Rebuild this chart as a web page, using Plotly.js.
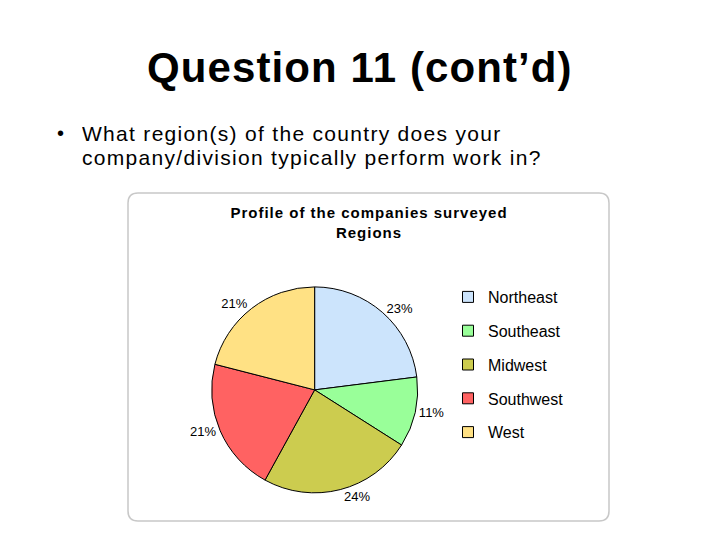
<!DOCTYPE html>
<html>
<head>
<meta charset="utf-8">
<script src="https://cdn.plot.ly/plotly-3.0.1.min.js"></script>
<style>
html,body{margin:0;padding:0;background:#fff;}
#chart{width:720px;height:540px;}
#chart .annotation-text{letter-spacing:1.3px;}
#chart .annotation[data-index="0"] .annotation-text{letter-spacing:1.1px;}
#chart .annotation[data-index="1"] .annotation-text{letter-spacing:0px;}
#chart .gtitle{letter-spacing:1px;}
</style>
</head>
<body>
<div id="chart"></div>
<script>
// Data
const regions = ["Northeast", "Southeast", "Midwest", "Southwest", "West"];
const shares = [23, 11, 24, 21, 21];
const sliceColors = ["#cce4fc", "#99ff99", "#cccc4f", "#ff6262", "#ffe184"];
const slideTitle = "Question 11 (cont\u2019d)";
const bulletLines = ["What region(s) of the country does your", "company/division typically perform work in?"];
const chartTitle = "Profile of the companies surveyed<br>Regions";

const FONT = "Arial, 'Liberation Sans', sans-serif";

const traces = [{
  type: "pie",
  labels: regions,
  values: shares,
  sort: false,
  direction: "clockwise",
  rotation: 0,
  marker: {colors: sliceColors, line: {color: "#000", width: 1}},
  textinfo: "percent",
  textposition: "outside",
  outsidetextfont: {family: FONT, size: 13, color: "#000"},
  showlegend: false,
  hoverinfo: "label+percent",
  domain: {x: [0.294, 0.58], y: [0.087, 0.469]}
}];

// legend entries (one per region, so spacing can be set)
regions.forEach((r, i) => {
  traces.push({
    type: "scatter", mode: "markers", x: [null], y: [null],
    name: r, legendgroup: r,
    marker: {symbol: "square", size: 11, color: sliceColors[i], line: {color: "#000", width: 1}},
    hoverinfo: "skip"
  });
});

const layout = {
  width: 720, height: 540,
  margin: {l: 0, r: 0, t: 0, b: 0},
  paper_bgcolor: "#fff", plot_bgcolor: "rgba(0,0,0,0)",
  font: {family: FONT, color: "#000"},
  title: {
    text: "<b>" + chartTitle + "</b>",
    font: {family: FONT, size: 15, color: "#000"},
    x: 369 / 720, xanchor: "center",
    y: 1 - 218 / 540, yanchor: "top"
  },
  xaxis: {visible: false, domain: [0.9, 0.95]},
  yaxis: {visible: false, domain: [0.9, 0.95]},
  showlegend: true,
  legend: {
    x: 448 / 720, xanchor: "left",
    y: 1 - 280 / 540, yanchor: "top",
    font: {family: FONT, size: 16, color: "#000"},
    tracegroupgap: 10,
    bgcolor: "rgba(0,0,0,0)"
  },
  shapes: [{
    type: "path", xref: "paper", yref: "paper",
    path: (function () {
      const W = 720, H = 540;
      const x0 = 128 / W, x1 = 609 / W, y0 = 1 - 521 / H, y1 = 1 - 193 / H;
      const rx = 10 / W, ry = 10 / H;
      return `M ${x0 + rx},${y1} L ${x1 - rx},${y1} Q ${x1},${y1} ${x1},${y1 - ry} L ${x1},${y0 + ry} Q ${x1},${y0} ${x1 - rx},${y0} L ${x0 + rx},${y0} Q ${x0},${y0} ${x0},${y0 + ry} L ${x0},${y1 - ry} Q ${x0},${y1} ${x0 + rx},${y1} Z`;
    })(),
    line: {color: "#c8c8c8", width: 1.5},
    fillcolor: "rgba(0,0,0,0)",
    layer: "below"
  }],
  annotations: [
    {text: "<b>" + slideTitle + "</b>", xref: "paper", yref: "paper",
     x: 360 / 720, y: 1 - 68 / 540, xanchor: "center", yanchor: "middle",
     showarrow: false, font: {family: FONT, size: 42, color: "#000"}},
    {text: "\u2022", xref: "paper", yref: "paper",
     x: 55 / 720, y: 1 - 133 / 540, xanchor: "left", yanchor: "middle",
     showarrow: false, font: {family: FONT, size: 20, color: "#000"}},
    {text: bulletLines[0], xref: "paper", yref: "paper",
     x: 80 / 720, y: 1 - 134 / 540, xanchor: "left", yanchor: "middle",
     width: 480, align: "left",
     showarrow: false, font: {family: FONT, size: 21, color: "#000"}},
    {text: bulletLines[1], xref: "paper", yref: "paper",
     x: 80 / 720, y: 1 - 157 / 540, xanchor: "left", yanchor: "middle",
     width: 480, align: "left",
     showarrow: false, font: {family: FONT, size: 21, color: "#000"}}
  ]
};

Plotly.newPlot("chart", traces, layout, {displayModeBar: false, staticPlot: true});
</script>
</body>
</html>
